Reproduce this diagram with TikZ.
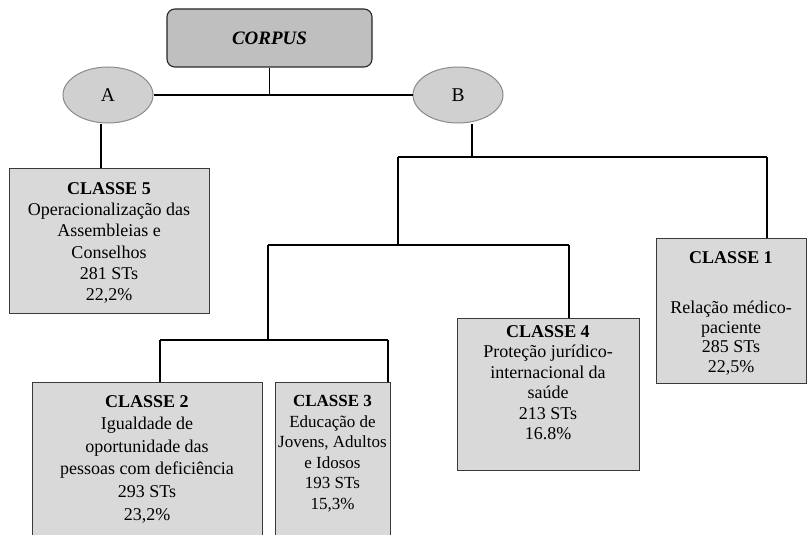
\documentclass[tikz,border=0pt]{standalone}
\usepackage{fontspec}
\setmainfont{Liberation Serif}
\usetikzlibrary{shapes.geometric,calc}
\definecolor{corpusfill}{HTML}{BFBFBF}
\definecolor{ellfill}{HTML}{D0D0D0}
\definecolor{ellline}{HTML}{8A8A8A}
\definecolor{boxfill}{HTML}{D9D9D9}
\definecolor{boxline}{HTML}{3A3A3A}
\tikzset{
  conn/.style={line width=1.3pt, black},
  corpusbox/.style={draw=black!85, line width=1.1pt, fill=corpusfill, rounded corners=8pt, inner sep=0pt},
  ellnode/.style={ellipse, draw=ellline, line width=1pt, fill=ellfill, inner sep=0pt, minimum width=90, minimum height=56, font=\fontsize{19.5}{22}\selectfont},
  classbox/.style={draw=boxline, line width=1pt, fill=boxfill, inner sep=0pt},
  classtxt/.style={align=center, inner sep=0pt, anchor=north},
}
\begin{document}
\begin{tikzpicture}[x=1pt,y=-1pt]
\useasboundingbox (0,0) rectangle (808,535);
% top
\node[corpusbox, minimum width=205, minimum height=58] (corpus) at (269.5,38) {\fontsize{19}{22}\selectfont\bfseries\itshape CORPUS};
\node[ellnode] (A) at (108,95) {A};
\node[ellnode] (B) at (458,95) {B};
% boxes
\node[classbox, minimum width=200, minimum height=145] (c5) at (109,240.5) {};
\node[classbox, minimum width=150, minimum height=145] (c1) at (731,310.5) {};
\node[classbox, minimum width=182, minimum height=152] (c4) at (548,394) {};
\node[classbox, minimum width=230, minimum height=170] (c2) at (147,467) {};
\node[classbox, minimum width=115, minimum height=170] (c3) at (332.5,467) {};
% texts
\node[classtxt, font=\fontsize{18}{21.3}\selectfont] (c5t) at (109,182) {\textbf{CLASSE 5}\\Operacionalização das\\Assembleias e\\Conselhos\\281 STs\\22,2\%};
\node[classtxt, font=\fontsize{18}{19.5}\selectfont] (c1t) at (731,251) {\textbf{CLASSE 1}\\[31pt]Relação médico-\\paciente\\285 STs\\22,5\%};
\node[classtxt, font=\fontsize{18}{20.5}\selectfont] (c4t) at (548,325) {\textbf{CLASSE 4}\\Proteção jurídico-\\internacional da\\saúde\\213 STs\\16.8\%};
\node[classtxt, font=\fontsize{18}{22.6}\selectfont] (c2t) at (147,395) {\textbf{CLASSE 2}\\Igualdade de\\oportunidade das\\pessoas com deficiência\\293 STs\\23,2\%};
\node[classtxt, font=\fontsize{17}{20.6}\selectfont] (c3t) at (332.5,395) {\textbf{CLASSE 3}\\Educação de\\Jovens, Adultos\\e Idosos\\193 STs\\15,3\%};
% junction coordinates
\coordinate (j1) at (472,157);
\coordinate (j1l) at (398,157);
\coordinate (j1r) at (767,157);
\coordinate (j2) at (398,245);
\coordinate (j2l) at (268,245);
\coordinate (j2r) at (569,245);
\coordinate (j3) at (268,340);
\coordinate (j3l) at (160,340);
\coordinate (j3r) at (388,340);
% connectors
\draw[conn] (corpus.south) -- (corpus.south |- A.east);
\draw[conn] (A.east) -- (B.west);
\draw[conn] ([xshift=-7pt]A.south) -- ([xshift=-7pt]A.south |- c5.north);
\draw[conn] (B.south -| j1) -- (j1);
\draw[conn] (j1l) -- (j1r);
\draw[conn] (j1r) -- (j1r |- c1.north);
\draw[conn] (j1l) -- (j2);
\draw[conn] (j2l) -- (j2r);
\draw[conn] (j2r) -- (j2r |- c4.north);
\draw[conn] (j2l) -- (j3);
\draw[conn] (j3l) -- (j3r);
\draw[conn] (j3l) -- (j3l |- c2.north);
\draw[conn] (j3r) -- (j3r |- c3.north);
\end{tikzpicture}
\end{document}
